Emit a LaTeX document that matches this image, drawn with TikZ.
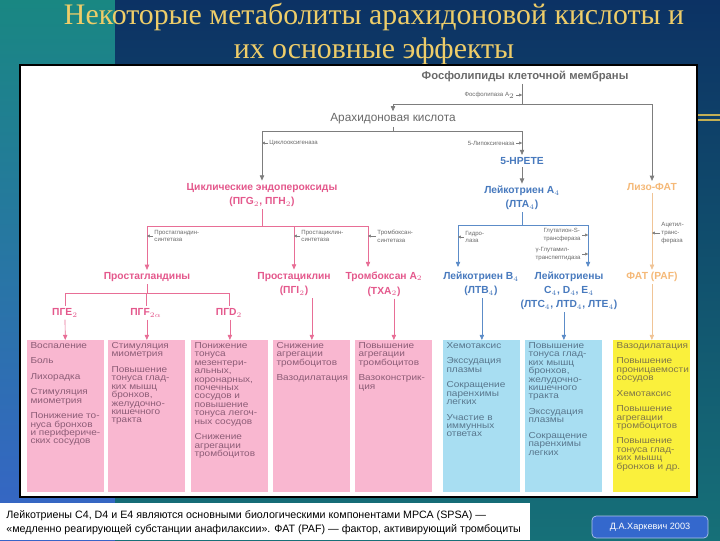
\documentclass[tikz,border=0pt]{standalone}
\usepackage{fontspec}
\setmainfont{Liberation Sans}
\newfontfamily\titlefont{Liberation Serif}
\newfontfamily\boxfont[FakeStretch=1.15]{Liberation Sans}
\usetikzlibrary{arrows.meta}

\definecolor{navy}{RGB}{12,50,100}
\definecolor{teala}{RGB}{25,135,130}
\definecolor{tealb}{RGB}{22,112,120}
\definecolor{bluea}{RGB}{55,100,200}
\definecolor{golda}{RGB}{238,205,105}
\definecolor{goldb}{RGB}{195,175,85}
\definecolor{grtx}{RGB}{105,105,105}
\definecolor{grln}{RGB}{125,125,125}
\definecolor{pktx}{RGB}{228,88,140}
\definecolor{pkln}{RGB}{232,110,150}
\definecolor{pkbox}{RGB}{249,183,208}
\definecolor{pkbt}{RGB}{140,92,118}
\definecolor{bltx}{RGB}{72,122,190}
\definecolor{blln}{RGB}{92,140,200}
\definecolor{blbox}{RGB}{168,222,242}
\definecolor{blbt}{RGB}{88,118,140}
\definecolor{ortx}{RGB}{245,185,120}
\definecolor{orln}{RGB}{240,196,150}
\definecolor{yebox}{RGB}{250,240,60}
\definecolor{yebt}{RGB}{128,118,72}
\definecolor{btnblue}{RGB}{52,104,205}

\newcommand{\fsz}[2]{\fontsize{#1}{#2}\selectfont}
\newcommand{\gp}{5pt}

\begin{document}
\begin{tikzpicture}[x=0.025cm,y=-0.025cm,line width=0.5pt,
  >={Triangle[length=1.3mm,width=1.1mm]},
  hd/.style={inner sep=1.5pt,align=center},
  pk/.style={hd,text=pktx,font=\bfseries\fsz{7.3}{10.5}},
  bl/.style={hd,text=bltx,font=\bfseries\fsz{7.3}{10}},
  or/.style={hd,text=ortx,font=\bfseries\fsz{7.3}{10}},
  gl/.style={draw=grln},
  pl/.style={draw=pkln},
  bll/.style={draw=blln},
  ol/.style={draw=orln},
  en/.style={inner sep=0.8pt,align=left,text=grtx,font=\fsz{4.3}{5.6}},
  tk/.style={draw=grln,line width=0.3pt,-{Triangle[length=0.7mm,width=0.7mm]}},
  bx/.style={anchor=north west,minimum width=1.925cm,minimum height=3.8cm,inner sep=0},
  bt/.style={anchor=north west,inner sep=0,align=left,font={\boxfont\fsz{6.2}{6}\lineskiplimit=-5pt}}]
\useasboundingbox (0,0) rectangle (720,540);
% фон
\fill[top color=teala,bottom color=bluea] (0,0) rectangle (115,540);
\fill[top color=navy,middle color=navy!70!tealb,bottom color=tealb] (115,0) rectangle (720,540);
\fill[goldb] (698,113.5) rectangle (720,116);
\fill[goldb] (698,118.5) rectangle (720,121);
\node[font=\titlefont\fsz{21.2}{23.6},text=golda,align=center,inner sep=0] (title) at (374,34)
  {Некоторые метаболиты арахидоновой кислоты и\\их основные эффекты};
\draw[fill=white,line width=0.8pt] (20,65) rectangle (697,497);
% сноска
\fill[white] (0,503) rectangle (530,540);
\node[anchor=north west,inner sep=0,align=left,font=\fsz{7.6}{10}] (note) at (6,510)
  {Лейкотриены C4, D4 и E4 являются основными биологическими компонентами МРСА (SPSA) —\\
   «медленно реагирующей субстанции анафилаксии». ФАТ (PAF) — фактор, активирующий тромбоциты};
\node[draw=white!60!btnblue,fill=btnblue,rounded corners=3pt,minimum width=2.9cm,minimum height=0.55cm,
  text=white,font=\fsz{6.5}{8}] (auth) at (650,527) {Д.А.Харкевич 2003};

% фосфолипиды
\node[hd,text=grtx,font=\bfseries\fsz{8}{10}] (phl) at (525,76) {Фосфолипиды клеточной мембраны};
\coordinate (j1) at (522,104);
\node[hd,text=grtx,font=\fsz{8.4}{10}] (ara) at (393,119) {Арахидоновая кислота};
\coordinate (j2) at (393,131);
\node[bl] (hpete) at (522,161) {5-HPETE};
\node[pk] (cyc) at (262,195) {Циклические эндопероксиды\\(ПГG$_2$, ПГН$_2$)};
\node[bl] (lta) at (522,198) {Лейкотриен A$_4$\\(ЛТА$_4$)};
\node[or] (lyso) at (652,187) {Лизо-ФАТ};
\draw[gl] (j1 |- phl.south) -- (j1);
\draw[gl,->] (j1) -| (lyso);
\draw[gl,->] (j1) -| (ara);
\draw[gl] (ara) -- (j2);
\draw[gl,->] (j2) -| (cyc);
\draw[gl,->] (j2) -| (hpete);
\draw[gl,->] (hpete) -- (lta);
\node[en,anchor=east] (pla) at (516,95) {Фосфолипаза A$_2$};
\draw[tk] (pla) -- (pla -| j1);
\node[en,anchor=west] (cox) at (268,143) {Циклооксигеназа};
\draw[tk] (cox) -- (cox -| cyc);
\node[en,anchor=east] (lox) at (516,143) {5-Липоксигеназа};
\draw[tk] (lox) -- (lox -| hpete);

% эффекты
\node[bx,fill=pkbox] (b1) at (27,340) {};
\node[bx,fill=pkbox] (b2) at (108,340) {};
\node[bx,fill=pkbox] (b3) at (191,340) {};
\node[bx,fill=pkbox] (b4) at (273,340) {};
\node[bx,fill=pkbox] (b5) at (355,340) {};
\node[bx,fill=blbox] (b6) at (443,340) {};
\node[bx,fill=blbox] (b7) at (525,340) {};
\node[bx,fill=yebox] (b8) at (613,340) {};
\node[bt,text=pkbt] at ([xshift=0.08cm,yshift=-0.05cm]b1.north west)
  {Воспаление\\[\gp]Боль\\[\gp]Лихорадка\\[\gp]Стимуляция\\миометрия\\[\gp]Понижение то-\\нуса бронхов\\и перифериче-\\ских сосудов};
\node[bt,text=pkbt] at ([xshift=0.08cm,yshift=-0.05cm]b2.north west)
  {Стимуляция\\миометрия\\[\gp]Повышение\\тонуса глад-\\ких мышц\\бронхов,\\желудочно-\\кишечного\\тракта};
\node[bt,text=pkbt] at ([xshift=0.08cm,yshift=-0.05cm]b3.north west)
  {Понижение\\тонуса\\мезентери-\\альных,\\коронарных,\\почечных\\сосудов и\\повышение\\тонуса легоч-\\ных сосудов\\[\gp]Снижение\\агрегации\\тромбоцитов};
\node[bt,text=pkbt] at ([xshift=0.08cm,yshift=-0.05cm]b4.north west)
  {Снижение\\агрегации\\тромбоцитов\\[\gp]Вазодилатация};
\node[bt,text=pkbt] at ([xshift=0.08cm,yshift=-0.05cm]b5.north west)
  {Повышение\\агрегации\\тромбоцитов\\[\gp]Вазоконстрик-\\ция};
\node[bt,text=blbt] at ([xshift=0.08cm,yshift=-0.05cm]b6.north west)
  {Хемотаксис\\[\gp]Экссудация\\плазмы\\[\gp]Сокращение\\паренхимы\\легких\\[\gp]Участие в\\иммунных\\ответах};
\node[bt,text=blbt] at ([xshift=0.08cm,yshift=-0.05cm]b7.north west)
  {Повышение\\тонуса глад-\\ких мышц\\бронхов,\\желудочно-\\кишечного\\тракта\\[\gp]Экссудация\\плазмы\\[\gp]Сокращение\\паренхимы\\легких};
\node[bt,text=yebt] at ([xshift=0.08cm,yshift=-0.05cm]b8.north west)
  {Вазодилатация\\[\gp]Повышение\\проницаемости\\сосудов\\[\gp]Хемотаксис\\[\gp]Повышение\\агрегации\\тромбоцитов\\[\gp]Повышение\\тонуса глад-\\ких мышц\\бронхов и др.};

% простаноиды
\coordinate (j3) at (262,226);
\node[pk] (pgs) at (147,277) {Простагландины};
\node[pk] (pgi) at (294,284) {Простациклин\\(ПГI$_2$)};
\node[pk] (txa) at (384,284) {Тромбоксан A$_2$\\(ТХА$_2$)};
\coordinate (txin) at (368,267);
\draw[pl] (cyc) -- (j3);
\draw[pl,->] (j3) -| (pgs);
\draw[pl,->] (j3) -| (pgi);
\draw[pl,->] (j3) -| (txin);
\node[en,anchor=west] (pgsyn) at (153,236) {Простагландин-\\синтетаза};
\draw[tk] (pgsyn) -- (pgsyn -| pgs);
\node[en,anchor=west] (pisyn) at (300,236) {Простациклин-\\синтетаза};
\draw[tk] (pisyn) -- (pisyn -| pgi);
\node[en,anchor=west] (txsyn) at (376,236) {Тромбоксан-\\синтетаза};
\draw[tk] (txsyn) -- (txsyn -| txin);
\coordinate (j5) at (147,293);
\node[pk] (pge) at (65,313) {ПГE$_2$};
\node[pk] (pgf) at (146,313) {ПГF$_{2\alpha}$};
\node[pk] (pgd) at (229,313) {ПГD$_2$};
\draw[pl] (pgs) -- (j5);
\draw[pl] (j5) -| (pge);
\draw[pl] (j5) -| (pgf);
\draw[pl] (j5) -| (pgd);
\draw[pl,->] (pge) -- (b1);
\draw[pl,->] (pgf.south -| b2.north) -- (b2.north);
\draw[pl,->] (pgd.south -| b3.north) -- (b3.north);
\draw[pl,->] (pgi.south -| b4.north) -- (b4.north);
\draw[pl,->] (txa.south -| b5.north) -- (b5.north);

% лейкотриены
\coordinate (j4) at (522,225);
\node[bl] (ltb) at (481,284) {Лейкотриен B$_4$\\(ЛТВ$_4$)};
\node[bl] (ltc) at (569,291) {Лейкотриены\\C$_4$, D$_4$, E$_4$\\(ЛТС$_4$, ЛТD$_4$, ЛТЕ$_4$)};
\coordinate (ltbin) at (458,267);
\coordinate (ltcin) at (588,267);
\draw[bll] (lta) -- (j4);
\draw[bll,->] (j4) -| (ltbin);
\draw[bll,->] (j4) -| (ltcin);
\node[en,anchor=west] (hyd) at (464,237) {Гидро-\\лаза};
\draw[tk] (hyd) -- (hyd -| ltbin);
\node[en,anchor=east] (gst) at (582,235) {Глутатион-S-\\трансфераза};
\draw[tk] (gst) -- (gst -| ltcin);
\node[en,anchor=east] (ggt) at (582,254) {γ-Глутамил-\\транспептидаза};
\draw[tk] (ggt) -- (ggt -| ltcin);
\draw[bll,->] (ltb.south -| b6.north) -- (b6.north);
\draw[bll,->] (ltc.south -| b7.north) -- (b7.north);

% ФАТ
\node[or] (paf) at (652,277) {ФАТ (PAF)};
\draw[ol,->] (lyso) -- (paf);
\node[en,anchor=west] (act) at (660,233) {Ацетил-\\транс-\\фераза};
\draw[tk] (act) -- (act -| lyso);
\draw[ol,->] (paf.south -| b8.north) -- (b8.north);
\end{tikzpicture}
\end{document}
